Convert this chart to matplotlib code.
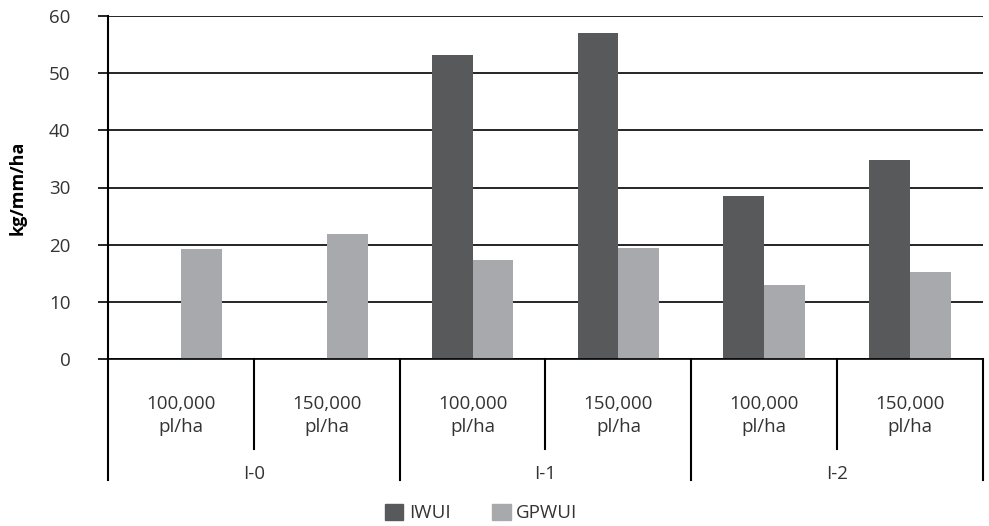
import matplotlib
matplotlib.use("Agg")
import matplotlib.pyplot as plt
import matplotlib.transforms as mtransforms
from matplotlib.patches import Patch
import numpy as np

plt.rcParams["font.family"] = ["Open Sans", "DejaVu Sans"]

# ---- data ----
groups = ["I-0", "I-1", "I-2"]
densities = ["100,000\npl/ha", "150,000\npl/ha"]
iwui = [0, 0, 53.2, 57.0, 28.5, 34.8]
gpwui = [19.2, 21.9, 17.4, 19.4, 12.9, 15.2]
series_names = ["IWUI", "GPWUI"]
colors = ["#58595b", "#a7a9ac"]

fs = 13.5
fig = plt.figure(figsize=(9.89, 5.26), dpi=100)
ax = fig.add_axes([108 / 989, 1 - 359 / 526, 875 / 989, 343 / 526])

x = np.arange(len(iwui))
w = 0.28
ax.bar(x - w / 2, iwui, w, color=colors[0], zorder=2)
ax.bar(x + w / 2, gpwui, w, color=colors[1], zorder=2)

ax.set_xlim(-0.5, len(iwui) - 0.5)
ax.set_ylim(0, 60)
ax.set_yticks(range(0, 61, 10))
ax.yaxis.grid(True, color="black", linewidth=1.2, zorder=0)
ax.set_axisbelow(True)
ax.tick_params(axis="y", length=7, width=1.2, color="black", labelsize=fs,
               labelcolor="#333333", pad=20)
ax.set_xticks([])
for s in ["top", "right"]:
    ax.spines[s].set_visible(False)
ax.spines["left"].set_linewidth(1.5)
ax.spines["bottom"].set_linewidth(1.2)
ax.set_ylabel("kg/mm/ha", fontsize=13, fontweight="bold", labelpad=16)

# ---- two-level category axis ----
trans = mtransforms.blended_transform_factory(ax.transData, ax.transAxes)
short_y = -0.262
long_y = -0.353
for b in [0.5, 2.5, 4.5]:
    ax.plot([b, b], [0, short_y], color="black", lw=1.5, transform=trans, clip_on=False)
for b in [-0.5, 1.5, 3.5, 5.5]:
    ax.plot([b, b], [0, long_y], color="black", lw=1.5, transform=trans, clip_on=False)
for i in range(len(iwui)):
    ax.text(i, -0.165, densities[i % 2], transform=trans, ha="center", va="center",
            fontsize=fs, color="#333333", linespacing=1.4)
for g, name in enumerate(groups):
    ax.text(2 * g + 0.5, -0.335, name, transform=trans, ha="center", va="center",
            fontsize=fs, color="#333333")

handles = [Patch(color=c) for c in colors]
fig.legend(handles, series_names, loc="center", bbox_to_anchor=(481 / 989, 13 / 526),
           ncol=2, frameon=False, fontsize=fs, handlelength=1.0, handleheight=1.0,
           handletextpad=0.3, columnspacing=2.2, labelcolor="#333333")

fig.savefig("out.png", dpi=100)
